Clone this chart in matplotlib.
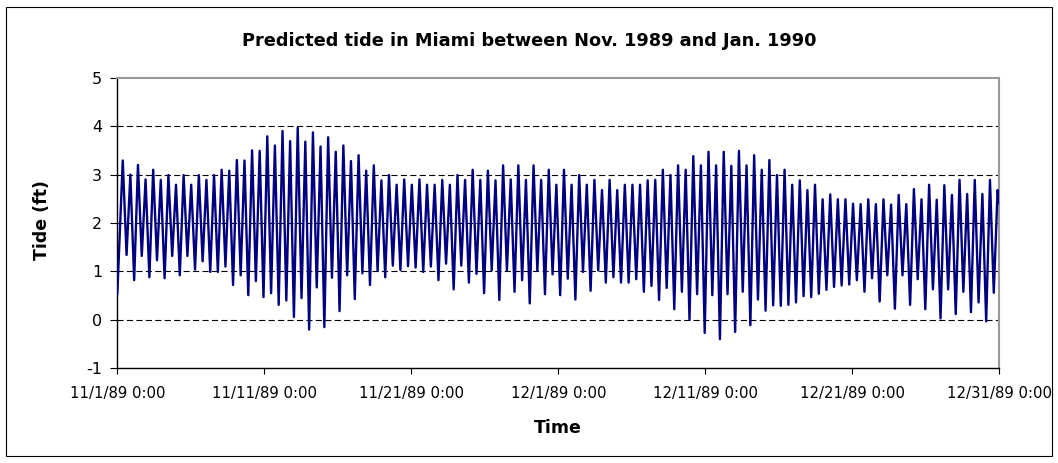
import numpy as np
import pandas as pd
import matplotlib
matplotlib.use("Agg")
import matplotlib.pyplot as plt
import matplotlib.dates as mdates
from matplotlib.patches import Rectangle

plt.rcParams['font.family'] = ['DejaVu Sans']

# Predicted tide, Miami, 11/1/89 - 12/31/89 (feet)
series_start = pd.Timestamp("1989-11-01 00:00")
series_end = pd.Timestamp("1989-12-31 00:00")

start_ft = 0.53          # height at 11/1/89 0:00
end_ft = 2.40            # height at 12/31/89 0:00

# successive high waters (ft)
high_ft = [
    3.29, 3.00, 3.20, 2.90, 3.10, 2.89, 2.99, 2.79, 2.99, 2.79,
    2.99, 2.89, 2.99, 3.10, 3.08, 3.30, 3.29, 3.50, 3.49, 3.79,
    3.60, 3.90, 3.69, 3.97, 3.68, 3.87, 3.58, 3.77, 3.47, 3.60,
    3.28, 3.40, 3.08, 3.19, 2.88, 2.99, 2.79, 2.90, 2.79, 2.90,
    2.79, 2.79, 2.89, 2.79, 2.99, 2.89, 3.10, 2.89, 3.08, 2.88,
    3.19, 2.90, 3.19, 2.89, 3.19, 2.89, 3.10, 2.79, 3.10, 2.79,
    2.99, 2.79, 2.89, 2.68, 2.89, 2.68, 2.79, 2.79, 2.79, 2.88,
    2.89, 3.10, 2.99, 3.19, 3.10, 3.38, 3.19, 3.47, 3.19, 3.47,
    3.18, 3.49, 3.19, 3.40, 3.10, 3.30, 2.99, 3.10, 2.79, 2.88,
    2.68, 2.79, 2.49, 2.59, 2.49, 2.49, 2.40, 2.39, 2.49, 2.39,
    2.49, 2.38, 2.58, 2.39, 2.70, 2.49, 2.79, 2.48, 2.78, 2.58,
    2.89, 2.60, 2.89, 2.60, 2.89, 2.68,
]

# successive low waters (ft), each following the high water of the same index
low_ft = [
    1.34, 0.82, 1.32, 0.88, 1.23, 0.86, 1.32, 0.92, 1.32, 1.04,
    1.21, 0.99, 0.99, 1.10, 0.72, 0.92, 0.51, 0.80, 0.47, 0.55,
    0.31, 0.40, 0.06, 0.45, -0.20, 0.67, -0.15, 0.87, 0.18, 0.92,
    0.43, 0.96, 0.72, 1.01, 0.88, 1.12, 1.03, 1.11, 1.08, 0.99,
    1.10, 0.82, 1.16, 0.63, 1.12, 0.77, 0.95, 0.55, 1.02, 0.41,
    1.02, 0.58, 0.82, 0.34, 1.01, 0.53, 0.94, 0.51, 0.85, 0.42,
    0.99, 0.60, 1.02, 0.77, 0.88, 0.77, 0.77, 0.84, 0.58, 0.70,
    0.41, 0.66, 0.22, 0.58, 0.00, 0.53, -0.27, 0.51, -0.40, 0.53,
    -0.25, 0.58, -0.11, 0.42, 0.19, 0.30, 0.29, 0.31, 0.36, 0.49,
    0.47, 0.54, 0.62, 0.68, 0.71, 0.73, 0.82, 0.58, 0.86, 0.38,
    0.92, 0.23, 0.92, 0.31, 0.84, 0.22, 0.63, 0.03, 0.63, 0.12,
    0.58, 0.16, 0.36, -0.03, 0.56,
]

first_high_hours = 8.9     # time of the first high water after 11/1 0:00
half_cycle_hours = 6.21    # high water to low water

tick_dates = ["1989-11-01", "1989-11-11", "1989-11-21", "1989-12-01",
              "1989-12-11", "1989-12-21", "1989-12-31"]
tick_labels = ["11/1/89 0:00", "11/11/89 0:00", "11/21/89 0:00", "12/1/89 0:00",
               "12/11/89 0:00", "12/21/89 0:00", "12/31/89 0:00"]
y_ticks = [-1, 0, 1, 2, 3, 4, 5]

# interleave high and low waters into one series
heights = [start_ft]
for i, h in enumerate(high_ft):
    heights.append(h)
    if i < len(low_ft):
        heights.append(low_ft[i])
heights.append(end_ft)

n_ext = len(heights) - 2
hours = [0.0] + [first_high_hours + k * half_cycle_hours for k in range(n_ext)]
hours.append((series_end - series_start) / pd.Timedelta(hours=1))
times = series_start + pd.to_timedelta(hours, unit="h")

W, H = 1058, 463
fig = plt.figure(figsize=(W / 100, H / 100), dpi=100)

# chart border
fig.patches.append(Rectangle((5.5 / W, 1 - 456 / H), (1052 - 5.5) / W, (456 - 6.5) / H,
                             transform=fig.transFigure, fill=False,
                             edgecolor="black", linewidth=0.8))

left, right, top, bottom = 117.3, 999.3, 77.7, 368.3
ax = fig.add_axes([left / W, 1 - bottom / H, (right - left) / W, (bottom - top) / H])

ax.plot(times, heights, color="#000080", linewidth=1.7,
        solid_joinstyle="round", solid_capstyle="round", zorder=3)

ax.set_xlim(series_start, series_end)
ax.set_ylim(-1, 5)
ax.set_yticks(y_ticks)
ax.set_yticklabels([str(v) for v in y_ticks], fontsize=11.5)
ax.set_xticks(pd.to_datetime(tick_dates))
ax.set_xticklabels(tick_labels, fontsize=10.7)

for v in y_ticks[1:-1]:
    ax.axhline(v, color="black", linewidth=0.8, dashes=(5.5, 3), zorder=1)

for s in ("top", "right"):
    ax.spines[s].set_color("#999999")
    ax.spines[s].set_linewidth(1.5)
for s in ("left", "bottom"):
    ax.spines[s].set_color("black")
    ax.spines[s].set_linewidth(1.0)

ax.tick_params(axis="y", direction="out", length=5, width=0.8, pad=6)
ax.tick_params(axis="x", direction="out", length=4, width=0.8, pad=9)

fig.text(529 / W, 1 - 46 / H, "Predicted tide in Miami between Nov. 1989 and Jan. 1990",
         ha="center", va="baseline", fontsize=12.8, fontweight="bold")
fig.text(42 / W, 1 - 220 / H, "Tide (ft)", ha="center", va="center",
         rotation=90, fontsize=12.5, fontweight="bold")
fig.text(558 / W, 1 - 428 / H, "Time", ha="center", va="center",
         fontsize=12.5, fontweight="bold")

fig.savefig("out.png", dpi=100)
